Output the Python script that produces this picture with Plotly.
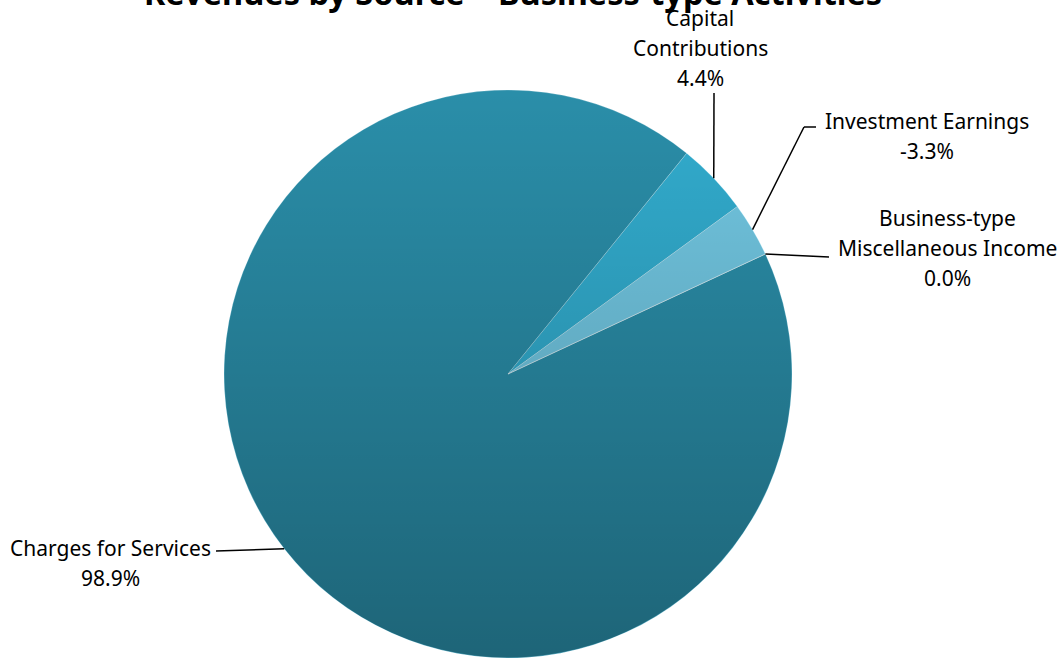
import math
import base64
import plotly.graph_objects as go

# ---- data ----
categories = ["Charges for Services", "Capital Contributions", "Investment Earnings",
              "Business-type Miscellaneous Income"]
percents = [98.9, 4.4, -3.3, 0.0]
label_lines = [["Charges for Services"], ["Capital", "Contributions"],
               ["Investment Earnings"], ["Business-type", "Miscellaneous Income"]]
title_text = "Revenues by Source \u2013 Business-type Activities"

# ---- style / layout ----
W, H = 1063, 658
CX, CY, R = 508, 374, 284
ROT = 65
colors = ["#2a8ea9", "#32adcf", "#72c8e3", "#8fcbe0"]
FONT = "Noto Sans"
LINE_GAP = 30
# label centre x and first line y (pixels), elbow points of leaders
label_anchor = [(110, 548), (700, 18), (927, 121), (947, 218)]
elbows = [[(216, 551)], [(714, 93)], [(816, 127), (804, 127)], [(829, 257)]]

sizes = [abs(p) for p in percents]
total = sum(sizes)

def px(x):
    return x / W

def py(y):
    return 1 - y / H

fig = go.Figure(go.Pie(
    labels=categories,
    values=sizes,
    sort=False,
    direction="clockwise",
    rotation=ROT,
    textinfo="none",
    hoverinfo="label+percent",
    marker=dict(colors=colors, line=dict(color="rgba(255,255,255,0.35)", width=0.6)),
    domain=dict(x=[(CX - R) / W, (CX + R) / W], y=[0, 2 * R / H]),
    showlegend=False,
))

annotations = []
shapes = []
start = ROT
for i, name in enumerate(categories):
    span = 360 * sizes[i] / total
    mid = math.radians(start + span / 2)
    start += span
    ex = CX + R * math.sin(mid)
    ey = CY - R * math.cos(mid)
    lines = label_lines[i] + [f"{percents[i]:.1f}%"]
    lx, ly = label_anchor[i]
    for k, t in enumerate(lines):
        annotations.append(dict(
            text=t, x=px(lx), y=py(ly + k * LINE_GAP), xref="paper", yref="paper",
            xanchor="center", yanchor="middle", showarrow=False,
            font=dict(family=FONT, size=21, color="#000000")))
    pts = elbows[i] + [(ex, ey)]
    for a, b in zip(pts[:-1], pts[1:]):
        shapes.append(dict(type="line", xref="paper", yref="paper",
                           x0=px(a[0]), y0=py(a[1]), x1=px(b[0]), y1=py(b[1]),
                           line=dict(color="#000000", width=1.5)))

annotations.append(dict(
    text=f"<b>{title_text}</b>", x=px(513), y=py(-8), xref="paper", yref="paper",
    xanchor="center", yanchor="middle", showarrow=False,
    font=dict(family=FONT, size=32.5, color="#000000")))

# vertical shading gradient over the pie (light at top, darker at bottom)
D = 2 * R
svg = (f"<svg xmlns='http://www.w3.org/2000/svg' width='{D}' height='{D}' viewBox='0 0 {D} {D}'>"
       "<defs><linearGradient id='g' x1='0' y1='0' x2='0' y2='1'>"
       "<stop offset='0' stop-color='#000' stop-opacity='0'/>"
       "<stop offset='1' stop-color='#000' stop-opacity='0.29'/>"
       "</linearGradient></defs>"
       f"<circle cx='{R}' cy='{R}' r='{R - 0.5}' fill='url(#g)'/></svg>")
src = "data:image/svg+xml;base64," + base64.b64encode(svg.encode()).decode()

fig.update_layout(
    width=W, height=H,
    margin=dict(l=0, r=0, t=0, b=0),
    paper_bgcolor="white", plot_bgcolor="white",
    annotations=annotations, shapes=shapes,
    images=[dict(source=src, xref="paper", yref="paper",
                 x=px(CX - R), y=py(CY - R), sizex=D / W, sizey=D / H,
                 xanchor="left", yanchor="top", sizing="stretch", layer="above")],
)

fig.write_html("out.html", config={"displayModeBar": False},
               post_script="document.body.style.margin='0';")
